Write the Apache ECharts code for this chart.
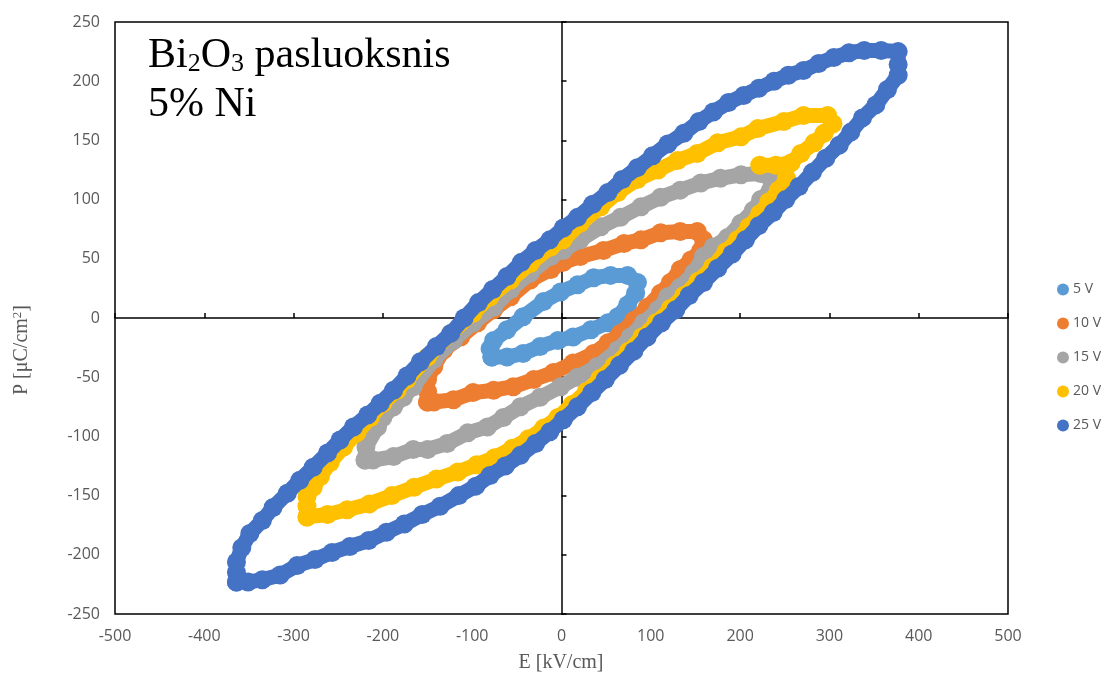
<!DOCTYPE html>
<html><head><meta charset="utf-8">
<script src="https://cdn.jsdelivr.net/npm/echarts@6/dist/echarts.min.js"></script>
<style>html,body{margin:0;padding:0;background:#fff}#c{width:1104px;height:680px}</style>
</head><body><div id="c"></div>
<script>
// ---- data (E in kV/cm, P in µC/cm²) ----
const seriesNames = ['5 V', '10 V', '15 V', '20 V', '25 V'];
const seriesColors = ['#5B9BD5', '#ED7D31', '#A5A5A5', '#FFC000', '#4472C4'];

const loop5V = [[-78,-33],[-80,-26],[-76,-19],[-61,-10],[-43,1],[-20,14],[-1,22],[18,28],[36,34],[55,36],[74,36],[85,30],[83,21],[74,11],[63,1],[52,-4],[33,-10],[13,-16],[-4,-19],[-24,-24],[-43,-30],[-61,-33],[-78,-33]];

const loop10V = [[-150,-71],[-150,-62],[-150,-52],[-143,-41],[-132,-27],[-113,-16],[-94,-4],[-76,7],[-57,18],[-35,32],[-12,41],[2,47],[21,52],[47,57],[70,63],[89,66],[111,72],[133,73],[152,73],[159,66],[156,57],[145,49],[133,41],[122,30],[111,21],[96,9],[81,-2],[66,-13],[52,-21],[36,-30],[13,-38],[-9,-46],[-31,-52],[-54,-58],[-76,-61],[-99,-63],[-121,-69],[-143,-71],[-150,-71]];

const loop15V = [[-220,-120],[-219,-109],[-206,-92],[-200,-84],[-188,-75],[-177,-67],[-166,-58],[-143,-35],[-121,-19],[-99,-4],[-76,9],[-57,24],[-35,38],[-12,52],[2,57],[21,66],[44,77],[66,85],[89,94],[111,102],[133,108],[156,114],[178,118],[201,121],[223,122],[234,118],[234,108],[223,100],[215,91],[201,80],[186,68],[170,60],[159,52],[148,38],[133,26],[119,18],[108,7],[92,-4],[77,-16],[63,-27],[40,-41],[18,-50],[-1,-58],[-24,-67],[-46,-75],[-65,-84],[-83,-92],[-105,-97],[-128,-106],[-150,-111],[-166,-111],[-188,-117],[-211,-120],[-220,-120]];

// '-' marks the jump after the short spur near the top right of the 20 V loop
const loop20V = [[-285,-168],[-285,-159],[-285,-151],[-278,-143],[-270,-134],[-259,-122],[-244,-109],[-229,-97],[-214,-84],[-200,-72],[-184,-61],[-173,-52],[-150,-33],[-124,-13],[-99,4],[-80,18],[-57,32],[-35,46],[-12,60],[2,66],[21,80],[44,94],[63,106],[85,117],[108,125],[130,133],[152,139],[175,148],[201,153],[220,160],[249,166],[271,171],[298,171],[304,164],[294,156],[283,148],[268,139],[257,131],[240,129],[222,129],['-','-'],[252,118],[243,108],[232,98],[222,88],[210,77],[197,66],[184,56],[169,43],[153,31],[137,19],[122,8],[106,-4],[90,-16],[75,-28],[59,-40],[43,-51],[28,-62],[12,-73],[-4,-84],[-20,-93],[-37,-102],[-55,-110],[-75,-118],[-95,-124],[-116,-130],[-140,-136],[-165,-143],[-190,-150],[-215,-157],[-240,-162],[-262,-166],[-285,-168]];

const loop25V = [[-364,-223],[-364,-215],[-364,-206],[-358,-194],[-349,-182],[-335,-171],[-323,-160],[-307,-148],[-293,-137],[-278,-126],[-262,-114],[-248,-103],[-233,-92],[-217,-82],[-203,-72],[-188,-61],[-173,-49],[-158,-37],[-140,-24],[-124,-13],[-109,0],[-93,13],[-77,24],[-61,35],[-45,47],[-29,57],[-13,66],[2,76],[18,85],[35,96],[52,106],[68,117],[85,127],[102,137],[119,147],[137,156],[154,166],[170,174],[187,182],[204,188],[221,194],[238,200],[254,205],[271,209],[288,215],[305,220],[322,224],[339,226],[358,226],[377,225],[377,214],[377,205],[365,193],[352,180],[337,169],[324,157],[311,146],[296,135],[281,123],[266,111],[251,100],[237,89],[221,78],[206,66],[191,54],[175,42],[159,30],[143,19],[128,7],[112,-4],[96,-16],[81,-28],[65,-40],[49,-52],[34,-63],[18,-75],[2,-86],[-13,-96],[-29,-106],[-46,-116],[-63,-125],[-80,-133],[-96,-142],[-115,-150],[-136,-159],[-156,-166],[-176,-174],[-196,-181],[-216,-188],[-237,-193],[-257,-198],[-276,-204],[-296,-209],[-315,-217],[-335,-221],[-351,-223],[-364,-223]];

const xRange = [-500, 500], xStep = 100;
const yRange = [-250, 250], yStep = 50;
const xTitle = 'E [kV/cm]';
const annotLine1 = ['Bi', '2', 'O', '3', ' pasluoksnis'];
const annotLine2 = '5% Ni';

// ---- chart ----
const loops = [loop5V, loop10V, loop15V, loop20V, loop25V];
const chart = echarts.init(document.getElementById('c'), null, {renderer: 'canvas'});
const labelFont = {fontFamily: 'Open Sans', fontSize: 16, color: '#595959'};

const baseX = {type: 'value', min: xRange[0], max: xRange[1], interval: xStep, splitLine: {show: false}};
const baseY = {type: 'value', min: yRange[0], max: yRange[1], interval: yStep, splitLine: {show: false}};

const option = {
  animation: false,
  backgroundColor: '#fff',
  grid: {left: 115, right: 96, top: 22, bottom: 66, show: true, borderColor: '#000', borderWidth: 1.5, backgroundColor: 'transparent'},
  xAxis: [
    Object.assign({}, baseX, {position: 'bottom', axisLine: {show: false, onZero: false}, axisTick: {show: false},
      axisLabel: Object.assign({margin: 14}, labelFont)}),
    Object.assign({}, baseX, {position: 'bottom', axisLine: {show: true, onZero: true, onZeroAxisIndex: 0, lineStyle: {color: '#000', width: 1.5}},
      axisTick: {show: true, inside: true, length: 5, lineStyle: {color: '#000', width: 1.5}}, axisLabel: {show: false}})
  ],
  yAxis: [
    Object.assign({}, baseY, {position: 'left', axisLine: {show: false, onZero: false}, axisTick: {show: false},
      axisLabel: Object.assign({margin: 15}, labelFont)}),
    Object.assign({}, baseY, {position: 'left', axisLine: {show: true, onZero: true, onZeroAxisIndex: 0, lineStyle: {color: '#000', width: 1.5}},
      axisTick: {show: true, inside: true, length: 5, lineStyle: {color: '#000', width: 1.5}}, axisLabel: {show: false}})
  ],
  legend: {
    orient: 'vertical', left: 1052, top: 277.5,
    itemWidth: 12, itemHeight: 15, itemGap: 20, icon: 'circle',
    textStyle: {fontFamily: 'Open Sans', fontSize: 14, color: '#595959', padding: [0, 0, 0, -1]},
    data: seriesNames
  },
  series: loops.map((d, i) => ({
    name: seriesNames[i],
    type: 'line',
    xAxisIndex: 0, yAxisIndex: 0,
    data: d,
    connectNulls: false,
    symbol: 'circle', symbolSize: 19, showSymbol: true, showAllSymbol: true,
    itemStyle: {color: seriesColors[i]},
    lineStyle: {color: seriesColors[i], width: 15, join: 'round', cap: 'round'},
    emphasis: {disabled: true},
    z: 2 + i
  })),
  graphic: [
    {type: 'text', left: 148, top: 35, z: 100,
      style: {text: '{n|' + annotLine1[0] + '}{s|' + annotLine1[1] + '}{n|' + annotLine1[2] + '}{s|' + annotLine1[3] + '}{n|' + annotLine1[4] + '}',
        rich: {n: {fontFamily: 'Liberation Serif', fontSize: 42, lineHeight: 42, fill: '#000'},
               s: {fontFamily: 'Liberation Serif', fontSize: 26, lineHeight: 22, verticalAlign: 'bottom', fill: '#000'}}}},
    {type: 'text', left: 148, top: 84, z: 100,
      style: {text: annotLine2, fontFamily: 'Liberation Serif', fontSize: 42, lineHeight: 42, fill: '#000'}},
    {type: 'text', x: 561, y: 663, z: 100,
      style: {text: xTitle, fontFamily: 'Liberation Serif', fontSize: 20, fill: '#595959', align: 'center', verticalAlign: 'middle'}},
    {type: 'text', x: 22, y: 350, rotation: Math.PI / 2, z: 100,
      style: {text: '{n|P [μC/cm}{s|2}{n|]}', align: 'center', verticalAlign: 'middle',
        rich: {n: {fontFamily: 'Liberation Serif', fontSize: 20, lineHeight: 22, fill: '#595959'},
               s: {fontFamily: 'Liberation Serif', fontSize: 13, lineHeight: 14, verticalAlign: 'top', fill: '#595959'}}}}
  ]
};
chart.setOption(option);
</script>
</body></html>
